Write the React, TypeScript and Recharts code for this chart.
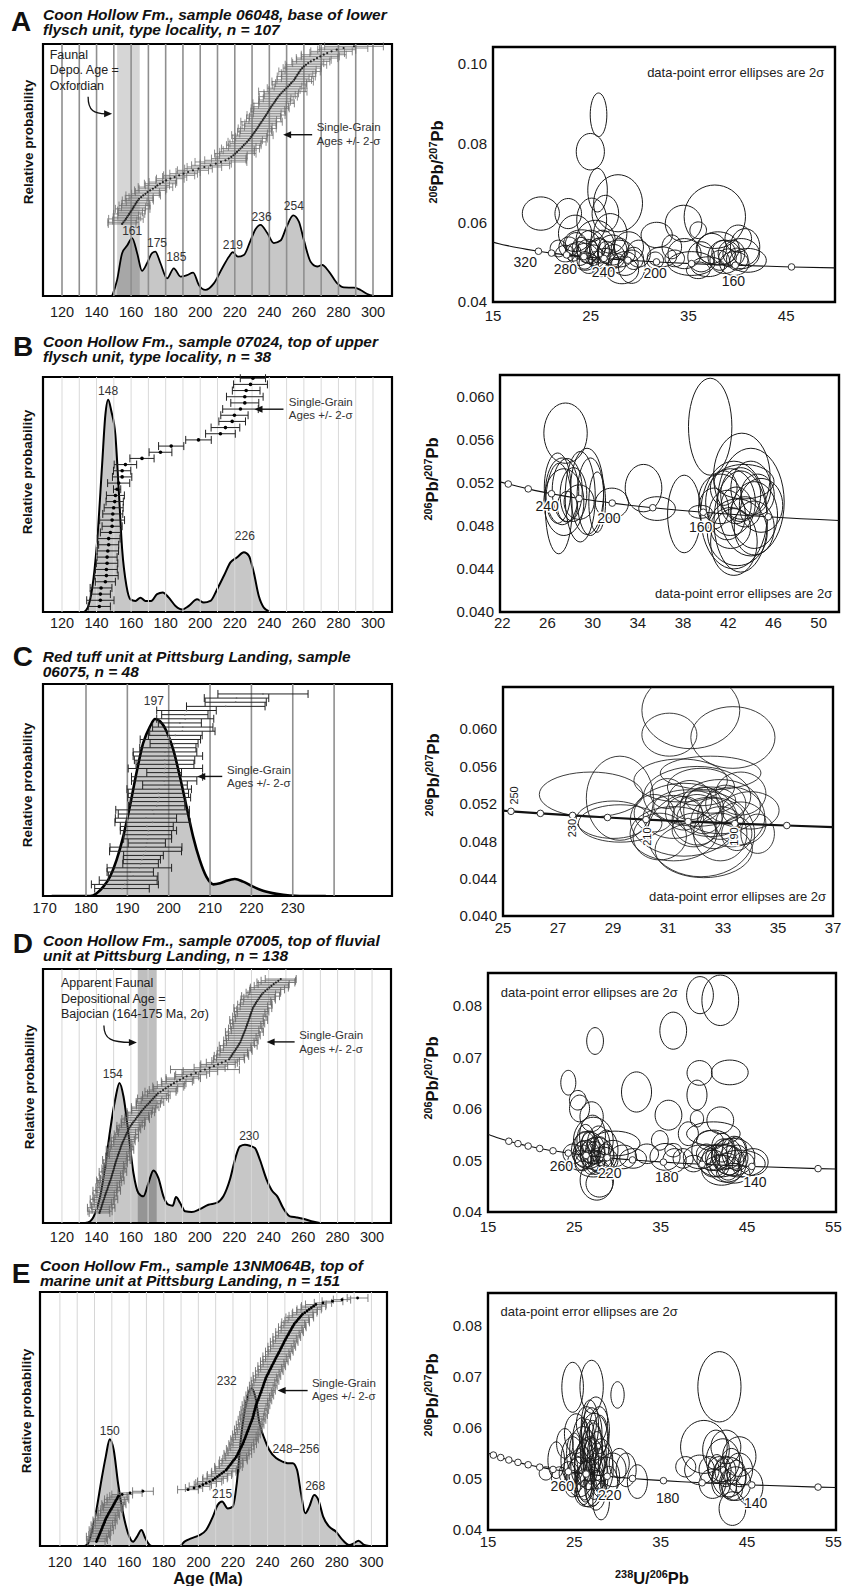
// Detrital zircon U-Pb figure: probability-density plots (left) and Tera-Wasserburg
// concordia diagrams (right) for five samples, A-E. All marks go through recharts scales.
import { Area, ComposedChart, ErrorBar, Line, ReferenceArea, ReferenceLine, Scatter, XAxis, YAxis } from 'recharts'

const FONT = '"Liberation Sans", Arial, Helvetica, sans-serif'
const INK = '#111111'

type Pair = [number, number]
type Ell = [number, number, number, number]
type Label = { t: string; x: number; y: number }
type Box = { l: number; t: number; w: number; h: number }

// ---------- titles ----------
const TITLE_A = ['Coon Hollow Fm., sample 06048, base of lower', 'flysch unit, type locality, n = 107']
const TITLE_B = ['Coon Hollow Fm., sample 07024, top of upper', 'flysch unit, type locality, n = 38']
const TITLE_C = ['Red tuff unit at Pittsburg Landing, sample', '06075, n = 48']
const TITLE_D = ['Coon Hollow Fm., sample 07005, top of fluvial', 'unit at Pittsburg Landing, n = 138']
const TITLE_E = ['Coon Hollow Fm., sample 13NM064B, top of', 'marine unit at Pittsburg Landing, n = 151']

// ---------- ticks / grid ----------
const AGE_TICKS = [120, 140, 160, 180, 200, 220, 240, 260, 280, 300]
const AGE_GRID = [120, 130, 140, 150, 160, 170, 180, 190, 200, 210, 220, 230, 240, 250, 260, 270, 280, 290, 300]
const C_TICKS = [170, 180, 190, 200, 210, 220, 230]
const C_GRID = [180, 190, 200, 210, 220, 230, 240]
const XT_A = [15, 25, 35, 45]
const YT_A = [0.04, 0.06, 0.08, 0.1]
const XT_B = [22, 26, 30, 34, 38, 42, 46, 50]
const YT_BC = [0.04, 0.044, 0.048, 0.052, 0.056, 0.06]
const XT_C = [25, 27, 29, 31, 33, 35, 37]
const XT_DE = [15, 25, 35, 45, 55]
const YT_DE = [0.04, 0.05, 0.06, 0.07, 0.08]

// ---------- concordia curve (age Ma, 238U/206Pb, 207Pb/206Pb) ----------
const CONC_AGE = [420, 400, 380, 360, 340, 320, 300, 280, 260, 250, 240, 230, 220, 210, 200, 190, 180, 170, 160, 140, 120, 100, 80]
const CONC_X = [14.85, 15.62, 16.47, 17.41, 18.47, 19.65, 20.99, 22.53, 24.3, 25.29, 26.36, 27.53, 28.8, 30.2, 31.73, 33.43, 35.32, 37.42, 39.79, 45.55, 53.22, 63.97, 80.08]
const CONC_Y = [0.05519, 0.0547, 0.05422, 0.05374, 0.05327, 0.0528, 0.05233, 0.05188, 0.05143, 0.0512, 0.05098, 0.05076, 0.05054, 0.05032, 0.05011, 0.04989, 0.04968, 0.04947, 0.04926, 0.04884, 0.04842, 0.04802, 0.04761]
const MARK_A = [320, 300, 280, 260, 240, 220, 200, 180, 160, 140]
const MARK_B = [280, 260, 240, 220, 200, 180, 160, 140]
const MARK_C = [250, 240, 230, 220, 210, 200, 190, 180]
const MARK_D = [360, 340, 320, 300, 280, 260, 240, 220, 200, 180, 160, 140, 120]
const MARK_E = [400, 380, 360, 340, 320, 300, 280, 260, 240, 220, 200, 180, 160, 140, 120]

// ---------- probability density curves [age, relative height] ----------
const PDP_A: Pair[] = [[149, 0], [151.9, 0.064], [154.8, 0.17], [157.7, 0.2], [160.6, 0.23], [163.5, 0.17], [166.3, 0.1], [169.2, 0.13], [172.1, 0.17], [174, 0.176], [177, 0.13], [180.8, 0.07], [184.7, 0.11], [188.6, 0.077], [192.4, 0.083], [195.9, 0.093], [199.2, 0.044], [203, 0.024], [207.9, 0.05], [212.7, 0.11], [216.6, 0.156], [218.9, 0.174], [221.8, 0.156], [225.3, 0.163], [229.1, 0.22], [232, 0.265], [234.9, 0.282], [238.8, 0.25], [242.6, 0.21], [246.5, 0.22], [250, 0.275], [253.8, 0.32], [257.1, 0.295], [260, 0.222], [263.9, 0.136], [267.7, 0.117], [270.6, 0.123], [274.5, 0.097], [279.3, 0.05], [283.2, 0.034], [289, 0.033], [292.8, 0.024], [296.7, 0.008], [300.6, 0]]
const PDP_B: Pair[] = [[132.6, 0], [134.9, 0.019], [137.4, 0.097], [140.3, 0.297], [143.2, 0.625], [145.1, 0.839], [146.7, 0.903], [148.6, 0.853], [150.9, 0.753], [152.8, 0.525], [154.8, 0.268], [157.3, 0.111], [159.6, 0.054], [162.5, 0.047], [165.4, 0.061], [168.3, 0.047], [171.6, 0.047], [175, 0.076], [178.3, 0.083], [181.8, 0.061], [185.7, 0.026], [189.5, 0.011], [193.4, 0.026], [198.2, 0.054], [202.1, 0.04], [205.9, 0.047], [209.8, 0.097], [213.7, 0.154], [217.5, 0.211], [221.4, 0.233], [225.3, 0.254], [228.1, 0.24], [231, 0.168], [233.9, 0.068], [236.8, 0.019], [240.7, 0]]
const PDP_C: Pair[] = [[171.7, 0], [181, 0], [182.6, 0.013], [184.2, 0.044], [185.8, 0.091], [187.4, 0.17], [189, 0.28], [190.6, 0.422], [192.2, 0.58], [193.8, 0.72], [195.5, 0.8], [196.7, 0.835], [197.9, 0.824], [199.5, 0.776], [201.1, 0.69], [202.7, 0.564], [204.3, 0.422], [205.9, 0.28], [207.5, 0.17], [209.1, 0.091], [210.8, 0.055], [212.4, 0.06], [214, 0.072], [216, 0.08], [218, 0.068], [220.4, 0.044], [222.8, 0.025], [226.1, 0.01], [229.3, 0.002], [231.7, 0], [238, 0]]
const PDP_D: Pair[] = [[133.5, 0], [136.4, 0.007], [139.3, 0.039], [142.2, 0.105], [145.1, 0.223], [148, 0.367], [150.9, 0.486], [153.4, 0.551], [155.7, 0.499], [158.6, 0.354], [161.5, 0.197], [164.4, 0.118], [167.3, 0.105], [170.2, 0.157], [173.1, 0.207], [176, 0.177], [178.9, 0.105], [181.8, 0.072], [184.3, 0.068], [186.2, 0.102], [188.6, 0.079], [191.5, 0.046], [195.3, 0.043], [200.1, 0.055], [205, 0.072], [209.8, 0.079], [213.7, 0.105], [217.5, 0.171], [220.4, 0.249], [223.3, 0.302], [226.2, 0.308], [229.1, 0.304], [232, 0.295], [234.9, 0.249], [238.8, 0.171], [242.2, 0.125], [245, 0.105], [248.4, 0.059], [252.3, 0.026], [256.2, 0.022], [260, 0.017], [264.8, 0.007], [269.7, 0]]
const PDP_E: Pair[] = [[134.4, 0], [136.3, 0.011], [138.2, 0.05], [141.1, 0.142], [144, 0.26], [146.5, 0.352], [148.8, 0.42], [151.1, 0.378], [153.6, 0.247], [156.5, 0.129], [159.4, 0.05], [162.3, 0.017], [164.6, 0.037], [167.1, 0.063], [169.4, 0.03], [171.9, 0.004], [173.8, 0], [189.2, 0], [192, 0.017], [195.9, 0.03], [200.7, 0.043], [204.5, 0.063], [208.4, 0.116], [211.2, 0.162], [213.7, 0.175], [217, 0.148], [219.9, 0.155], [222.2, 0.247], [224.7, 0.431], [227.6, 0.562], [230.4, 0.622], [232.9, 0.589], [235.3, 0.484], [238.1, 0.424], [241, 0.378], [244.9, 0.346], [248.7, 0.332], [251.6, 0.326], [254.5, 0.326], [257, 0.3], [259.3, 0.208], [261.8, 0.129], [264.1, 0.155], [266.9, 0.201], [269.4, 0.181], [272.1, 0.116], [275.6, 0.076], [279.4, 0.057], [283.3, 0.024], [287.1, 0.004], [290, 0.011], [292.5, 0.021], [295.8, 0.004], [298.6, 0]]

// ---------- single-grain ages [age, 2-sigma error], ranked bottom to top ----------
const GRAINS_A: Pair[] = [
  [154.8, 8], [155.5, 9], [156.3, 7], [157, 10], [157.6, 8], [158.3, 6], [158.9, 9], [159.6, 7], [160.2, 8], [160.9, 10],
  [161.4, 7], [162, 9], [162.6, 8], [163.2, 6], [163.9, 9], [164.6, 8], [165.8, 7], [167, 10], [168.3, 8], [169.5, 7],
  [171, 9], [172.6, 8], [174.1, 10], [175.2, 7], [176.7, 9], [178.4, 8], [180.3, 6], [182.7, 8], [185.2, 7], [187.8, 9],
  [190.4, 8], [193, 7], [195.8, 9], [199, 8], [202.4, 10], [206, 11], [209, 9], [212, 15], [214.6, 12], [216.5, 10],
  [218, 9], [219.2, 8], [220.3, 12], [221.3, 10], [222.3, 9], [223.3, 11], [224.3, 8], [225.2, 10], [226.2, 9], [227.1, 11],
  [228, 8], [228.8, 10], [229.5, 9], [230.2, 12], [230.9, 8], [231.6, 10], [232.3, 9], [233, 11], [233.6, 8], [234.2, 10],
  [234.9, 9], [235.5, 12], [236.2, 8], [236.8, 10], [237.5, 9], [238.1, 11], [238.8, 8], [239.3, 10], [239.9, 9], [240.5, 11],
  [241.1, 10], [241.8, 8], [242.5, 12], [243.2, 9], [243.8, 10], [244.5, 8], [245.2, 11], [246, 9], [246.9, 10], [247.8, 14],
  [248.8, 9], [249.8, 11], [250.8, 8], [251.7, 10], [252.6, 9], [253.5, 12], [254.4, 10], [255, 8], [255.6, 11], [256.2, 9],
  [256.9, 10], [257.5, 12], [258.1, 9], [259, 11], [260, 10], [261.2, 12], [262.5, 9], [264, 11], [265.8, 10], [267.6, 12],
  [269.5, 11], [271.5, 13], [273.5, 10], [276, 12], [279, 11], [283, 14], [289, 17],
]
const GRAINS_B: Pair[] = [
  [141.6, 6.4], [142.2, 7.9], [142.2, 5.8], [142.6, 6.3], [145.1, 5.8], [145.7, 6.8], [145.7, 6.3], [146.1, 6.2], [146.1, 5.8], [146.5, 6.2],
  [147, 5.8], [147, 6.6], [148, 5.8], [149, 5.8], [149, 7.2], [149.4, 5.8], [149.9, 5.5], [150.5, 5], [150.9, 5.2], [151.9, 2.1],
  [152.8, 6.4], [154.8, 5.6], [154.8, 5], [156.7, 6.5], [166.3, 7], [177, 6.6], [183.2, 7.3], [199, 7.4], [211.7, 8.6], [214.6, 8.3],
  [218.5, 7.7], [219.8, 7.9], [223.3, 10.3], [225.8, 8.1], [225.8, 10.6], [226.6, 8], [229.1, 9.8], [230.5, 7.3],
]
const GRAINS_C: Pair[] = [
  [188.7, 6.6], [189.4, 8.1], [190.2, 7], [191.4, 6], [190.7, 5.6], [192.9, 7.8], [193.2, 4.3], [193.5, 4.5], [193.9, 4.8], [194.4, 8.7],
  [194.5, 8.7], [194.7, 4.5], [194.9, 5.8], [194.9, 5.8], [195.1, 6.8], [194.7, 6.4], [196.1, 9.1], [194.5, 7.4], [196.4, 8.6], [196.1, 8.9],
  [197.1, 6.8], [197.4, 6.7], [197.7, 7.6], [197.5, 7.3], [197.7, 7.8], [199.1, 5.4], [198.9, 7.9], [199.6, 8.6], [198.9, 4.2], [199.2, 9],
  [199.1, 7], [199, 7.3], [199.8, 8.4], [199.1, 7.7], [199.8, 6.8], [201.3, 5.8], [200.4, 7.3], [201.6, 6.5], [203.3, 7.9], [203.4, 7.3],
  [202.7, 5.2], [204, 6.9], [203.9, 5.6], [204.3, 7.2], [213.8, 9.5], [216.2, 7.4], [216.4, 7.8], [222.8, 10.9],
]
const GRAINS_D: Pair[] = [
  [141.8, 6], [142.1, 7], [142.5, 5], [142.8, 8], [143.1, 6], [143.4, 7], [143.7, 5], [144, 6], [144.4, 8], [144.7, 6],
  [145, 7], [145.3, 5], [145.7, 6], [146, 8], [146.4, 6], [146.7, 7], [147, 5], [147.4, 6], [147.7, 7], [148.1, 8],
  [148.4, 6], [148.7, 7], [149, 5], [149.3, 6], [149.6, 8], [149.9, 6], [150.2, 7], [150.4, 6], [150.7, 5], [151, 7],
  [151.3, 6], [151.6, 8], [152, 6], [152.3, 7], [152.6, 5], [153, 6], [153.3, 7], [153.7, 8], [154, 6], [154.3, 7],
  [154.7, 6], [155.1, 5], [155.5, 7], [156, 6], [156.4, 8], [156.9, 6], [157.3, 7], [157.8, 5], [158.3, 6], [158.7, 7],
  [159.2, 6], [159.9, 8], [160.6, 6], [161.3, 7], [162.1, 6], [162.8, 8], [163.5, 7], [164.3, 6], [165, 7], [165.8, 8],
  [166.5, 6], [167.4, 7], [168.3, 8], [169.2, 6], [170.2, 7], [171.1, 8], [172, 6], [172.9, 9], [173.8, 7], [174.8, 8],
  [175.7, 6], [177.2, 9], [178.7, 8], [180.2, 7], [181.7, 9], [183.3, 8], [185, 7], [186.7, 9], [188.5, 8], [190.4, 10],
  [192.4, 7], [195, 9], [197.7, 8], [200.4, 10], [203, 20], [205.7, 9], [208.2, 8], [210.6, 10], [212.8, 9], [215, 8],
  [217, 9], [217.7, 8], [218.4, 10], [219, 9], [219.7, 8], [220.4, 10], [221, 9], [221.7, 8], [222.3, 11], [222.9, 9],
  [223.5, 8], [223.9, 10], [224.3, 9], [224.7, 8], [225.1, 10], [225.5, 9], [225.9, 11], [226.3, 8], [226.7, 10], [227, 9],
  [227.4, 8], [227.7, 10], [228.1, 9], [228.4, 11], [228.8, 8], [229.1, 10], [229.4, 9], [229.8, 8], [230.1, 10], [230.5, 9],
  [230.8, 11], [231.4, 8], [232, 10], [232.6, 9], [233.2, 8], [233.9, 10], [234.6, 9], [235.3, 11], [236, 8], [236.9, 10],
  [238, 9], [239.2, 10], [240.4, 11], [241.6, 10], [242.9, 9], [244.2, 11], [245.6, 10], [247, 9],
]
const GRAINS_E: Pair[] = [
  [141.1, 5], [141.5, 6], [141.9, 5], [142.3, 7], [142.7, 6], [143.1, 5], [143.5, 6], [143.9, 7], [144.3, 5], [144.6, 6],
  [145, 7], [145.4, 5], [145.8, 6], [146.1, 7], [146.5, 6], [147, 5], [147.5, 7], [148, 6], [148.5, 5], [149.1, 7],
  [149.6, 6], [150.2, 5], [150.7, 6], [151.2, 7], [151.7, 6], [152.2, 5], [152.8, 7], [153.3, 6], [153.8, 5], [156, 6],
  [160.5, 7], [168, 6],
  [194, 6], [197.5, 5], [200.7, 6], [202.6, 5], [204.5, 6], [206.5, 7], [208.4, 6], [209.7, 7], [211, 6], [212.2, 7],
  [213.5, 6], [214.7, 7], [216, 6], [216.7, 7], [217.4, 8], [218.2, 6], [218.9, 7], [219.6, 6], [220.3, 8], [221.1, 7],
  [221.8, 6], [222.3, 7], [222.8, 8], [223.2, 6], [223.7, 7], [224.2, 8], [224.7, 6], [225.1, 7], [225.6, 8], [226, 6],
  [226.3, 7], [226.7, 8], [227.1, 7], [227.4, 6], [227.8, 8], [228.1, 7], [228.5, 6], [228.9, 8], [229.2, 7], [229.6, 6],
  [229.9, 8], [230.3, 7], [230.7, 6], [231, 8], [231.4, 7], [231.6, 6], [231.9, 8], [232.1, 7], [232.3, 6], [232.6, 8],
  [232.8, 7], [233.1, 6], [233.3, 8], [233.7, 7], [234, 6], [234.4, 8], [234.8, 7], [235.1, 6], [235.5, 8], [235.8, 7],
  [236.2, 6], [236.5, 8], [236.8, 7], [237.2, 6], [237.5, 8], [237.8, 7], [238.1, 6], [238.5, 8], [238.8, 7], [239.1, 6],
  [239.6, 8], [240.1, 7], [240.6, 6], [241, 8], [241.5, 7], [242, 6], [242.4, 8], [242.9, 7], [243.4, 6], [243.9, 8],
  [244.3, 7], [244.8, 6], [245.3, 8], [245.8, 7], [246.3, 6], [246.8, 8], [247.3, 7], [247.7, 6], [248.2, 8], [248.7, 7],
  [249.2, 6], [249.6, 8], [250.1, 7], [250.6, 6], [251.1, 8], [251.7, 7], [252.2, 6], [252.7, 8], [253.3, 7], [253.8, 6],
  [254.3, 8], [254.9, 7], [255.4, 6], [256.2, 8], [257, 7], [257.8, 6], [258.6, 8], [259.4, 7], [260.2, 6], [261.5, 7],
  [262.8, 6], [264, 7], [265.3, 6], [266.6, 7], [267.9, 6], [272, 5], [277.5, 6], [283, 5], [292, 6],
]

// ---------- error ellipses [238U/206Pb, 207Pb/206Pb, half-width, half-height] ----------
const ELL_A: Ell[] = [
  [25.8, 0.0872, 0.85, 0.0055], [24.96, 0.0779, 1.44, 0.0046], [25.7, 0.0682, 1.0, 0.0055], [27.8, 0.0649, 2.5, 0.0072],
  [19.9, 0.0623, 1.9, 0.0042], [22.7, 0.0623, 1.36, 0.0038], [37.7, 0.0615, 3.14, 0.008], [34.5, 0.0598, 1.87, 0.0046],
  [31.75, 0.0569, 1.6, 0.0032], [36, 0.0581, 0.85, 0.0021], [40.1, 0.056, 1.36, 0.0034], [38, 0.0535, 2.2, 0.0042],
  [23.4, 0.0573, 1.7, 0.0046], [25.1, 0.0607, 1.53, 0.0055], [26.5, 0.0623, 1.36, 0.0046], [22.75, 0.0539, 1.0, 0.0025],
  [23.8, 0.0522, 1.2, 0.003], [24.45, 0.0514, 1.36, 0.0034], [25.0, 0.0539, 1.5, 0.0042], [25.8, 0.0522, 1.2, 0.0038],
  [26.5, 0.0505, 1.36, 0.003], [27.2, 0.0531, 1.5, 0.0038], [27.85, 0.0522, 1.7, 0.0034], [28.5, 0.0497, 1.36, 0.003],
  [28.9, 0.0539, 1.5, 0.0038], [28.2, 0.048, 1.7, 0.0034], [29.2, 0.0489, 1.36, 0.0042], [25.5, 0.0556, 2.0, 0.005],
  [24.1, 0.0548, 1.87, 0.0034], [22.4, 0.0522, 1.0, 0.0021], [27.0, 0.0573, 1.7, 0.005], [24.8, 0.0497, 1.0, 0.0025],
  [26.1, 0.0489, 1.0, 0.0025], [29.9, 0.0522, 1.2, 0.0034], [21.7, 0.0535, 0.85, 0.0021], [32.3, 0.0514, 1.5, 0.0025],
  [31.6, 0.0505, 0.85, 0.0021], [33.6, 0.051, 1.0, 0.0021], [34.6, 0.0522, 1.7, 0.0038], [35.3, 0.0497, 2.4, 0.003],
  [36.3, 0.0514, 1.36, 0.0038], [37, 0.0489, 1.7, 0.0025], [37.4, 0.0535, 1.5, 0.0038], [38.7, 0.0514, 1.7, 0.0042],
  [39.4, 0.0522, 1.36, 0.0034], [39.7, 0.0497, 1.5, 0.003], [40.4, 0.0522, 1.87, 0.0038], [41.1, 0.0505, 1.87, 0.003],
  [40.8, 0.0539, 1.5, 0.0046], [36, 0.048, 1.2, 0.0021], [33.3, 0.0539, 1.0, 0.003],
  [23.2, 0.0525, 0.8, 0.0022], [24.0, 0.0535, 0.9, 0.0028], [24.7, 0.0528, 1.1, 0.003], [25.3, 0.0518, 0.9, 0.0026],
  [25.9, 0.053, 1.0, 0.0032], [26.6, 0.0525, 0.9, 0.0028], [27.4, 0.0515, 1.1, 0.003], [28.0, 0.0535, 0.9, 0.0026],
  [26.2, 0.0545, 1.2, 0.0036], [24.4, 0.0505, 0.8, 0.0022], [27.7, 0.0498, 0.9, 0.0024], [29.4, 0.051, 1.0, 0.0028],
  [25.6, 0.0508, 0.8, 0.002], [23.5, 0.0545, 1.1, 0.003], [38.2, 0.0505, 1.0, 0.0025], [39.0, 0.0512, 0.9, 0.0022],
  [40.0, 0.0508, 1.1, 0.0028], [38.6, 0.0525, 1.2, 0.003],
]
const ELL_B: Ell[] = [
  [27.6, 0.0566, 1.92, 0.0028], [26.9, 0.0515, 1.18, 0.00326], [27.3, 0.0512, 1.47, 0.0031], [27.75, 0.0513, 1.33, 0.00295],
  [27.0, 0.0496, 1.18, 0.0042], [27.45, 0.0502, 1.77, 0.0031], [28.3, 0.0509, 1.18, 0.0025], [28.9, 0.0507, 1.33, 0.0042],
  [29.5, 0.0512, 1.47, 0.004], [29.8, 0.0507, 1.18, 0.0036], [28.8, 0.0502, 1.33, 0.0016], [30.4, 0.0502, 0.74, 0.0028],
  [27.75, 0.0498, 0.88, 0.0014], [31.7, 0.0501, 1.47, 0.0014], [34.5, 0.0515, 1.62, 0.0022], [35.7, 0.0496, 1.62, 0.0011],
  [38.1, 0.0491, 1.47, 0.0036], [40.4, 0.0572, 1.92, 0.0045], [39.55, 0.0493, 1.03, 0.0006], [43.2, 0.0526, 2.5, 0.004],
  [44, 0.0502, 2.95, 0.005], [42.5, 0.049, 2.95, 0.005], [42.2, 0.0502, 2.2, 0.0031], [43.1, 0.0509, 1.77, 0.0025],
  [41.3, 0.0505, 1.9, 0.0023], [40.7, 0.0496, 1.33, 0.0019], [44.3, 0.049, 2.06, 0.0031], [44.9, 0.0499, 1.92, 0.0025],
  [42.8, 0.0474, 2.65, 0.0031], [42.5, 0.0465, 2.06, 0.0031], [43.1, 0.0484, 2.36, 0.0047], [44, 0.0515, 1.77, 0.0025],
  [43.4, 0.0521, 2.65, 0.0016], [41.6, 0.0515, 1.18, 0.0016], [41.9, 0.049, 1.62, 0.0023], [44.3, 0.0478, 1.77, 0.0025],
  [44.6, 0.0509, 1.47, 0.0019], [42.7, 0.0499, 1.33, 0.0017], [43.5, 0.0493, 1.33, 0.0014], [42.2, 0.0478, 1.77, 0.0019],
]
const ELL_C: Ell[] = [
  [31.83, 0.062, 1.78, 0.0041], [33.36, 0.0591, 1.53, 0.0033], [31.05, 0.0594, 1.0, 0.0023], [28.2, 0.053, 1.88, 0.0024],
  [29.25, 0.0526, 1.22, 0.0045], [29.0, 0.0503, 1.34, 0.002], [29.26, 0.0499, 1.52, 0.002], [31.46, 0.0545, 1.7, 0.0023],
  [32.55, 0.0553, 1.83, 0.0018], [32.06, 0.0528, 1.95, 0.0032], [31.58, 0.0503, 1.95, 0.0039], [32.2, 0.0488, 1.95, 0.0046],
  [32.3, 0.0471, 1.77, 0.003], [31.2, 0.0488, 1.58, 0.0029], [30.7, 0.0485, 0.97, 0.0025], [32.9, 0.0517, 1.46, 0.0029],
  [33.3, 0.0506, 1.22, 0.0032], [33.65, 0.0499, 0.91, 0.0023], [31.7, 0.0517, 1.22, 0.0018], [32.55, 0.0506, 1.22, 0.0021],
  [31.2, 0.0506, 1.1, 0.0023], [32.06, 0.0503, 0.91, 0.0027], [32.9, 0.0488, 0.97, 0.0029], [34, 0.0513, 1.04, 0.002],
  [33.65, 0.0531, 0.91, 0.0023], [32.2, 0.0538, 1.22, 0.002], [30.5, 0.051, 0.73, 0.002], [34.26, 0.0488, 0.61, 0.0021],
  [32.55, 0.0524, 0.91, 0.0014], [31.94, 0.0492, 0.79, 0.0018], [32.9, 0.0496, 0.67, 0.0014], [30.97, 0.0531, 0.61, 0.0016],
  [32.3, 0.0513, 0.73, 0.0025], [31.58, 0.051, 0.67, 0.0018], [33.1, 0.052, 0.73, 0.002], [32.67, 0.0499, 0.85, 0.0027],
  [31.8, 0.0524, 0.79, 0.0021], [33.5, 0.0488, 0.55, 0.0018],
]
const ELL_D: Ell[] = [
  [27.4, 0.0732, 0.97, 0.0026], [24.3, 0.0651, 0.87, 0.0024], [25.4, 0.0617, 0.97, 0.0019], [25.6, 0.0601, 1.16, 0.0026],
  [27, 0.0585, 1.35, 0.0029], [32.2, 0.0633, 1.74, 0.0039], [36.45, 0.0752, 1.55, 0.0036], [39.55, 0.0821, 1.55, 0.0036],
  [41.9, 0.0811, 2.13, 0.0049], [39.5, 0.067, 1.45, 0.0024], [43, 0.0671, 2.13, 0.0024], [39.2, 0.0627, 1.16, 0.0029],
  [35.9, 0.0588, 1.55, 0.0029], [39.2, 0.0581, 0.77, 0.0016], [38.2, 0.0552, 1.16, 0.0023], [34.9, 0.0539, 0.97, 0.0019],
  [41.1, 0.0552, 3.1, 0.0023], [41.9, 0.0578, 1.55, 0.0026], [27.2, 0.0539, 2.3, 0.0045], [26.6, 0.052, 1.93, 0.0036],
  [26.4, 0.0513, 1.55, 0.0026], [27.6, 0.0513, 1.93, 0.0032], [28.3, 0.05, 1.74, 0.0026], [27.2, 0.0494, 2.13, 0.0026],
  [27.6, 0.0462, 1.93, 0.0039], [27.9, 0.0455, 1.55, 0.0026], [29.5, 0.0513, 1.74, 0.0026], [30.65, 0.0507, 1.55, 0.0023],
  [29.7, 0.0533, 2.9, 0.0024], [25.6, 0.05, 1.35, 0.0019], [24.85, 0.0513, 1.16, 0.0019], [31.8, 0.0504, 1.55, 0.0019],
  [26.2, 0.0533, 1.16, 0.0023], [28.7, 0.052, 1.35, 0.0039], [33.4, 0.0513, 1.35, 0.0019], [35.5, 0.0507, 1.74, 0.0026],
  [36.6, 0.05, 1.35, 0.0023], [37.6, 0.0504, 1.16, 0.0019], [36.45, 0.052, 0.97, 0.0013], [39.55, 0.0507, 1.93, 0.0023],
  [41.1, 0.052, 2.5, 0.0039], [41.9, 0.05, 2.7, 0.0032], [42.6, 0.0494, 2.3, 0.0036], [43.4, 0.0507, 2.5, 0.0036],
  [44.2, 0.0494, 2.9, 0.0026], [42.05, 0.0481, 2.3, 0.0029], [41.1, 0.0494, 1.55, 0.0026], [40.3, 0.0513, 1.16, 0.0019],
  [42.8, 0.0513, 1.55, 0.0029], [43.8, 0.052, 1.16, 0.0026], [43.4, 0.0475, 1.93, 0.0019], [45.7, 0.0497, 1.74, 0.0026],
  [38.8, 0.0494, 1.16, 0.0016], [40.7, 0.0539, 1.55, 0.0019],
  [26.0, 0.0505, 1.0, 0.0025], [26.8, 0.0525, 1.1, 0.003], [27.4, 0.0505, 1.2, 0.0032], [28.0, 0.0518, 1.0, 0.0028],
  [26.9, 0.0495, 0.9, 0.0022], [27.8, 0.0532, 1.3, 0.0035], [25.9, 0.0518, 0.8, 0.002], [28.6, 0.0508, 1.0, 0.0024],
  [27.1, 0.0548, 1.5, 0.004], [26.3, 0.054, 1.0, 0.003], [26.5, 0.0512, 0.8, 0.0024], [27.2, 0.0518, 0.9, 0.0026],
  [27.7, 0.0498, 0.8, 0.002], [26.7, 0.0535, 0.8, 0.0022],
  [41.5, 0.0505, 1.3, 0.0025], [42.3, 0.0512, 1.4, 0.003], [43.0, 0.05, 1.2, 0.0028], [41.8, 0.049, 1.1, 0.0022],
  [42.8, 0.0488, 1.3, 0.0026], [43.9, 0.0505, 1.2, 0.0025], [40.8, 0.0502, 1.0, 0.0022], [42.1, 0.0525, 1.2, 0.0028],
  [43.5, 0.0515, 1.4, 0.0032], [44.6, 0.0492, 1.3, 0.0024],
]
const ELL_E: Ell[] = [
  [24.8, 0.068, 1.25, 0.0049], [27, 0.0681, 1.35, 0.0052], [30, 0.0665, 0.77, 0.0026], [41.8, 0.0681, 2.5, 0.0069],
  [40, 0.0563, 2.7, 0.0052], [22.9, 0.0537, 0.96, 0.0036], [23.9, 0.057, 0.96, 0.0029], [25.2, 0.0589, 1.35, 0.0039],
  [26.4, 0.0609, 1.16, 0.0033], [27.5, 0.0615, 1.35, 0.0046], [27.3, 0.0583, 1.54, 0.0046], [26, 0.0557, 1.54, 0.0046],
  [24.8, 0.0537, 1.35, 0.0046], [26.75, 0.0531, 1.73, 0.0052], [28.1, 0.0537, 1.35, 0.0042], [25.6, 0.0504, 1.54, 0.0039],
  [26.75, 0.0491, 1.73, 0.0046], [26.4, 0.0472, 1.35, 0.0026], [27.5, 0.0478, 1.16, 0.0039], [28.1, 0.0456, 0.96, 0.0036],
  [28.7, 0.0504, 1.54, 0.0039], [29.45, 0.0518, 1.54, 0.0033], [30.2, 0.0531, 1.16, 0.0029], [31, 0.0518, 1.16, 0.0033],
  [32.3, 0.0495, 1.16, 0.0033], [24.4, 0.0511, 1.16, 0.0023], [23.3, 0.0504, 0.96, 0.002], [21.7, 0.0511, 0.77, 0.0013],
  [27.1, 0.0563, 1.16, 0.0052], [27.9, 0.0596, 1.16, 0.0046], [26.2, 0.0518, 1.16, 0.0059], [24.8, 0.0491, 0.96, 0.0026],
  [26.0, 0.0525, 1.0, 0.004], [27.3, 0.0505, 1.1, 0.0045], [26.6, 0.0545, 0.9, 0.005], [27.8, 0.052, 1.0, 0.004],
  [25.5, 0.0525, 0.9, 0.0035], [27.0, 0.059, 1.2, 0.005],
  [25.0, 0.055, 0.9, 0.004], [25.8, 0.0575, 1.0, 0.0045], [26.3, 0.0495, 1.0, 0.004], [26.9, 0.0535, 0.9, 0.0045],
  [27.2, 0.056, 1.0, 0.005], [27.6, 0.0545, 1.1, 0.0048], [26.5, 0.0575, 0.9, 0.0042], [25.3, 0.051, 0.9, 0.0035],
  [27.9, 0.0505, 1.0, 0.004], [28.4, 0.052, 1.1, 0.0045], [26.1, 0.0485, 0.9, 0.0035], [27.2, 0.0485, 1.0, 0.0038],
  [28.0, 0.057, 1.0, 0.0055], [26.8, 0.0605, 1.0, 0.005], [29.0, 0.0495, 1.0, 0.003], [24.6, 0.052, 0.8, 0.003],
  [37.9, 0.0524, 1.16, 0.002], [39.5, 0.0518, 1.73, 0.0029], [41.4, 0.0557, 1.54, 0.0039], [42.2, 0.0537, 1.93, 0.0042],
  [44.1, 0.0544, 1.93, 0.0039], [42.9, 0.0504, 1.93, 0.0039], [43.7, 0.0491, 1.73, 0.0033], [43.3, 0.0442, 1.54, 0.0033],
  [45.3, 0.0485, 1.54, 0.0036], [41, 0.0491, 1.54, 0.0029], [41.8, 0.0518, 1.35, 0.0026], [44.1, 0.0518, 1.54, 0.0033],
  [42.55, 0.0563, 1.73, 0.0033], [40.6, 0.0518, 1.16, 0.0026], [43.3, 0.0478, 1.16, 0.002],
  [42.5, 0.0515, 1.2, 0.003], [43.2, 0.0525, 1.3, 0.0035], [42.0, 0.0495, 1.1, 0.003], [43.8, 0.0505, 1.1, 0.0032],
  [42.8, 0.049, 1.0, 0.0028], [41.5, 0.052, 1.0, 0.0028],
]

// ---------- annotations (data coordinates) ----------
const PEAKS_A: Label[] = [{ t: '161', x: 160.6, y: 0.256 }, { t: '175', x: 175, y: 0.212 }, { t: '185', x: 186.2, y: 0.154 }, { t: '219', x: 218.9, y: 0.203 }, { t: '236', x: 235.5, y: 0.315 }, { t: '254', x: 254.2, y: 0.358 }]
const PEAKS_B: Label[] = [{ t: '148', x: 146.7, y: 0.939 }, { t: '226', x: 225.8, y: 0.322 }]
const PEAKS_C: Label[] = [{ t: '197', x: 196.4, y: 0.921 }]
const PEAKS_D: Label[] = [{ t: '154', x: 149.5, y: 0.588 }, { t: '230', x: 228.7, y: 0.341 }]
const PEAKS_E: Label[] = [{ t: '150', x: 148.8, y: 0.451 }, { t: '232', x: 216.4, y: 0.648 }, { t: '248–256', x: 256.4, y: 0.381 }, { t: '215', x: 213.7, y: 0.205 }, { t: '268', x: 267.5, y: 0.237 }]
const SG = 'Single-Grain\nAges +/- 2-σ'
const SG_A: Label = { t: SG, x: 267.4, y: 0.669 }
const SG_B: Label = { t: SG, x: 251.3, y: 0.893 }
const SG_C: Label = { t: SG, x: 214.1, y: 0.595 }
const SG_D: Label = { t: SG, x: 257.7, y: 0.739 }
const SG_E: Label = { t: SG, x: 265.6, y: 0.641 }
const ARROW_A: Label = { t: '', x: 248, y: 0.64 }
const ARROW_B: Label = { t: '', x: 231.4, y: 0.863 }
const ARROW_C: Label = { t: '', x: 206.9, y: 0.564 }
const ARROW_D: Label = { t: '', x: 238.8, y: 0.713 }
const ARROW_E: Label = { t: '', x: 245.8, y: 0.612 }
const FAUNAL_A: Label = { t: 'Faunal\nDepo. Age =\nOxfordian', x: 112.9, y: 0.958 }
const FAUNAL_D: Label = { t: 'Apparent Faunal\nDepositional Age =\nBajocian (164-175 Ma, 2σ)', x: 119.4, y: 0.945 }
const HOOK_A: Label = { t: '', x: 149, y: 0.723 }
const HOOK_D: Label = { t: '', x: 163.5, y: 0.711 }
const BAND_A: Pair = [151.9, 165]
const BAND_D: Pair = [164, 175]

const AGES_A: Label[] = [{ t: '320', x: 18.3, y: 0.0501 }, { t: '280', x: 22.4, y: 0.0484 }, { t: '240', x: 26.3, y: 0.0476 }, { t: '200', x: 31.6, y: 0.0472 }, { t: '160', x: 39.6, y: 0.0452 }]
const AGES_B: Label[] = [{ t: '240', x: 25.98, y: 0.0498 }, { t: '200', x: 31.44, y: 0.0487 }, { t: '160', x: 39.55, y: 0.0479 }]
const AGES_C: Label[] = [{ t: '250', x: 25.39, y: 0.0529 }, { t: '230', x: 27.5, y: 0.0494 }, { t: '210', x: 30.24, y: 0.0485 }, { t: '190', x: 33.4, y: 0.0485 }]
const AGES_D: Label[] = [{ t: '260', x: 23.5, y: 0.0489 }, { t: '220', x: 29.1, y: 0.0476 }, { t: '180', x: 35.7, y: 0.0467 }, { t: '140', x: 45.9, y: 0.0458 }]
const AGES_E: Label[] = [{ t: '260', x: 23.6, y: 0.0486 }, { t: '220', x: 29.1, y: 0.0469 }, { t: '180', x: 35.8, y: 0.0462 }, { t: '140', x: 46, y: 0.0452 }]
const NOTE = 'data-point error ellipses are 2σ'
const NOTE_A: Label = { t: NOTE, x: 48.9, y: 0.0979 }
const NOTE_B: Label = { t: NOTE, x: 51.2, y: 0.0418 }
const NOTE_C: Label = { t: NOTE, x: 36.75, y: 0.0421 }
const NOTE_D: Label = { t: NOTE, x: 16.47, y: 0.0828 }
const NOTE_E: Label = { t: NOTE, x: 16.46, y: 0.0829 }

// ---------- row builders ----------
const pdpRows = (pts: Pair[]) => pts.map(([x, d]) => ({ x, d }))
const grainRows = (g: Pair[]) => g.map(([x, e], i) => ({ x, r: i, e }))
const labelRows = (ls: Label[]) => ls.map((l) => ({ x: l.x, y: l.y, d: l.y, t: l.t }))
const concRows = CONC_X.map((x, i) => ({ x, y: CONC_Y[i] }))
const markerRows = (ages: number[]) => ages.map((a) => ({ x: CONC_X[CONC_AGE.indexOf(a)], y: CONC_Y[CONC_AGE.indexOf(a)] }))
const ELL_STEPS = 44
function ellipseRows(list: Ell[]) {
  const rows: { x: number; y: number | null }[] = []
  for (const [cx, cy, rx, ry] of list) {
    for (let k = 0; k <= ELL_STEPS; k++) {
      const t = (k / ELL_STEPS) * Math.PI * 2
      rows.push({ x: cx + rx * Math.cos(t), y: cy + ry * Math.sin(t) })
    }
    rows.push({ x: cx, y: null })
  }
  return rows
}

// ---------- shapes ----------
const textShape = (size: number, anchor: string, color: string, lh = size * 1.15, rotate = 0, halo = false) => (p: any) => {
  if (p.cx == null || p.cy == null) return <g />
  const lines = String(p.payload.t).split('\n')
  return (
    <text x={p.cx} y={p.cy} fontSize={size} fontFamily={FONT} textAnchor={anchor} fill={color} dominantBaseline="central"
      transform={rotate ? `rotate(${rotate} ${p.cx} ${p.cy})` : undefined}
      stroke={halo ? '#fff' : 'none'} strokeWidth={halo ? 3 : 0} paintOrder="stroke">
      {lines.map((s, i) => (
        <tspan key={i} x={p.cx} dy={i === 0 ? 0 : lh}>{s}</tspan>
      ))}
    </text>
  )
}
const leftArrow = (len: number) => (p: any) => (
  <g>
    <line x1={p.cx + 5} y1={p.cy} x2={p.cx + len} y2={p.cy} stroke={INK} strokeWidth={1.4} />
    <path d={`M${p.cx},${p.cy} l8,-3.5 l0,7 z`} fill={INK} />
  </g>
)
const hookArrow = (dx: number, dy: number) => (p: any) => (
  <g>
    <path d={`M${p.cx - dx},${p.cy - dy} C${p.cx - dx},${p.cy - 3} ${p.cx - dx * 0.75},${p.cy} ${p.cx - 6},${p.cy}`} fill="none" stroke={INK} strokeWidth={1.3} />
    <path d={`M${p.cx},${p.cy} l-8,-3.5 l0,7 z`} fill={INK} />
  </g>
)
const dotShape = (r: number, color: string) => (p: any) => <circle cx={p.cx} cy={p.cy} r={r} fill={color} />
const markerShape = (p: any) => <circle cx={p.cx} cy={p.cy} r={3.3} fill="#fff" stroke="#333" strokeWidth={1} />

// ---------- page furniture ----------
function Heading({ letter, lt, ll, tt, tl, lines }: { letter: string; lt: number; ll: number; tt: number; tl: number; lines: string[] }) {
  return (
    <>
      <div style={{ position: 'absolute', left: ll, top: lt, fontSize: 28, lineHeight: '28px', fontWeight: 700 }}>{letter}</div>
      <div style={{ position: 'absolute', left: tl, top: tt, fontSize: 15.5, lineHeight: '14.5px', fontWeight: 700, fontStyle: 'italic', whiteSpace: 'pre' }}>
        {lines.join('\n')}
      </div>
    </>
  )
}
const rot: React.CSSProperties = { position: 'absolute', transform: 'translate(-50%,-50%) rotate(-90deg)', whiteSpace: 'nowrap', fontWeight: 700, lineHeight: 1 }
const ProbLabel = ({ x, y }: { x: number; y: number }) => <div style={{ ...rot, left: x, top: y, fontSize: 13.5 }}>Relative probability</div>
const sup: React.CSSProperties = { fontSize: '0.66em', verticalAlign: '0.55em' }
const RatioLabel = ({ x, y }: { x: number; y: number }) => (
  <div style={{ ...rot, left: x, top: y, fontSize: 16.5 }}>
    <span style={sup}>206</span>Pb/<span style={sup}>207</span>Pb
  </div>
)

// ---------- probability-density panel ----------
function DensityPanel(p: any) {
  const box: Box = p.box
  const ML = 20, MR = 14, MT = 6, XH = 30
  const tickStyle = { fontSize: 14.5, fill: '#1a1a1a', fontFamily: FONT }
  return (
    <div style={{ position: 'absolute', left: box.l - ML, top: box.t - MT }}>
      <ComposedChart width={box.w + ML + MR} height={box.h + MT + XH} margin={{ top: MT, right: MR, bottom: 0, left: ML }}>
        <XAxis type="number" dataKey="x" domain={p.xDomain} allowDataOverflow ticks={p.xTicks} interval={0} tickLine={false} axisLine={false} tickSize={0} tickMargin={p.tickMargin} height={XH} tick={tickStyle} />
        <YAxis yAxisId="d" type="number" dataKey="d" domain={[0, 1]} allowDataOverflow hide />
        <YAxis yAxisId="g" type="number" dataKey="r" domain={p.rankDomain} allowDataOverflow hide />
        {p.grid.map((v: number) => (
          <ReferenceLine key={v} yAxisId="d" x={v} stroke={p.gridColor} strokeWidth={p.gridWidth} />
        ))}
        {p.band && <ReferenceArea yAxisId="d" x1={p.band[0]} x2={p.band[1]} y1={0} y2={1} fill="#000" fillOpacity={p.bandOpacity} stroke="none" />}
        <Area yAxisId="d" data={pdpRows(p.pdp)} dataKey="d" type="monotone" stroke="#000" strokeWidth={p.curveWidth} fill="#000" fillOpacity={0.22} dot={false} activeDot={false} isAnimationActive={false} />
        <Scatter yAxisId="g" data={grainRows(p.grains)} shape={dotShape(p.dotR, p.dotColor)} isAnimationActive={false}>
          <ErrorBar dataKey="e" direction="x" width={4} stroke={p.barColor} strokeWidth={p.barWidth} isAnimationActive={false} />
        </Scatter>
        <Scatter yAxisId="d" data={labelRows(p.peaks)} shape={textShape(12, 'middle', '#333')} isAnimationActive={false} />
        <Scatter yAxisId="d" data={labelRows([p.sg])} shape={textShape(11.5, 'start', '#333', p.sgLh)} isAnimationActive={false} />
        <Scatter yAxisId="d" data={labelRows([p.arrow])} shape={leftArrow(p.arrowLen)} isAnimationActive={false} />
        {p.faunal && <Scatter yAxisId="d" data={labelRows([p.faunal])} shape={textShape(12.5, 'start', '#222', p.faunalLh)} isAnimationActive={false} />}
        {p.hook && <Scatter yAxisId="d" data={labelRows([p.hook])} shape={hookArrow(p.hookDx, p.hookDy)} isAnimationActive={false} />}
        <ReferenceArea yAxisId="d" x1={p.xDomain[0]} x2={p.xDomain[1]} y1={0} y2={1} fill="none" stroke="#000" strokeWidth={2.2} />
      </ComposedChart>
    </div>
  )
}

// ---------- concordia panel ----------
function ConcordiaPanel(p: any) {
  const box: Box = p.box
  const YW = 75, MR = 14, MT = 6, XH = 30
  const tickStyle = { fontSize: 15, fill: '#1a1a1a', fontFamily: FONT }
  return (
    <div style={{ position: 'absolute', left: box.l - YW, top: box.t - MT }}>
      <ComposedChart width={box.w + YW + MR} height={box.h + MT + XH} margin={{ top: MT, right: MR, bottom: 0, left: 0 }}>
        <XAxis type="number" dataKey="x" domain={p.xDomain} allowDataOverflow ticks={p.xTicks} interval={0} tickLine={false} axisLine={false} tickSize={0} tickMargin={p.tickMargin} height={XH} tick={tickStyle} />
        <YAxis type="number" dataKey="y" domain={p.yDomain} allowDataOverflow ticks={p.yTicks} interval={0} width={YW} tickLine={false} axisLine={false} tickSize={0} tickMargin={6} tick={tickStyle} tickFormatter={(v: number) => v.toFixed(p.digits)} />
        <Line data={concRows} dataKey="y" type="monotone" stroke={INK} strokeWidth={p.concWidth} dot={false} activeDot={false} isAnimationActive={false} />
        <Line data={ellipseRows(p.ellipses)} dataKey="y" type="linear" stroke="#1a1a1a" strokeWidth={p.ellWidth} dot={false} activeDot={false} connectNulls={false} isAnimationActive={false} />
        <Scatter data={markerRows(p.markers)} shape={markerShape} isAnimationActive={false} />
        <Scatter data={labelRows(p.ages)} shape={textShape(p.ageSize, 'middle', '#1a1a1a', 14, p.ageRotate, true)} isAnimationActive={false} />
        <Scatter data={labelRows([p.note])} shape={textShape(13, p.noteAnchor, '#222')} isAnimationActive={false} />
        <ReferenceArea x1={p.xDomain[0]} x2={p.xDomain[1]} y1={p.yDomain[0]} y2={p.yDomain[1]} fill="none" stroke="#000" strokeWidth={2.4} />
      </ComposedChart>
    </div>
  )
}

export default function App() {
  return (
    <div style={{ position: 'absolute', left: 0, top: 0, width: 842, height: 1586, background: '#fff', overflow: 'hidden', fontFamily: FONT, color: INK }}>
      {/* A */}
      <Heading letter="A" lt={8} ll={11} tt={8.1} tl={43} lines={TITLE_A} />
      <ProbLabel x={29} y={142} />
      <DensityPanel box={{ l: 43, t: 44, w: 349, h: 252 }} xDomain={[109, 311]} xTicks={AGE_TICKS} tickMargin={10.7}
        grid={AGE_GRID} gridColor="#8f8f8f" gridWidth={1.6} pdp={PDP_A} curveWidth={1.8}
        grains={GRAINS_A} rankDomain={[-43, 107.4]} barColor="#6e6e6e" barWidth={0.8} dotR={1.1} dotColor="#222"
        band={BAND_A} bandOpacity={0.16} peaks={PEAKS_A} sg={SG_A} sgLh={13.3} arrow={ARROW_A} arrowLen={29}
        faunal={FAUNAL_A} faunalLh={15.5} hook={HOOK_A} hookDx={24} hookDy={17} />
      <RatioLabel x={437} y={162} />
      <ConcordiaPanel box={{ l: 493, t: 47, w: 342, h: 255 }} xDomain={[15, 50]} yDomain={[0.04, 0.1043]} xTicks={XT_A} yTicks={YT_A} digits={2}
        tickMargin={8.7} ellipses={ELL_A} ellWidth={1} concWidth={1.1} markers={MARK_A} ages={AGES_A} ageSize={14} ageRotate={0}
        note={NOTE_A} noteAnchor="end" />

      {/* B */}
      <Heading letter="B" lt={333} ll={13} tt={335.1} tl={43} lines={TITLE_B} />
      <ProbLabel x={28} y={472} />
      <DensityPanel box={{ l: 43, t: 377, w: 349, h: 235 }} xDomain={[109, 311]} xTicks={AGE_TICKS} tickMargin={5.7}
        grid={AGE_GRID} gridColor="#d9d9d9" gridWidth={1} pdp={PDP_B} curveWidth={2}
        grains={GRAINS_B} rankDomain={[-0.9, 37.2]} barColor="#222" barWidth={1} dotR={1.8} dotColor="#000"
        peaks={PEAKS_B} sg={SG_B} sgLh={12.7} arrow={ARROW_B} arrowLen={29} />
      <RatioLabel x={432} y={479} />
      <ConcordiaPanel box={{ l: 500, t: 375, w: 339, h: 237 }} xDomain={[21.8, 51.8]} yDomain={[0.04, 0.062]} xTicks={XT_B} yTicks={YT_BC} digits={3}
        tickMargin={5.7} ellipses={ELL_B} ellWidth={1} concWidth={1.1} markers={MARK_B} ages={AGES_B} ageSize={14} ageRotate={0}
        note={NOTE_B} noteAnchor="end" />

      {/* C */}
      <Heading letter="C" lt={643} ll={12.7} tt={650.1} tl={42.7} lines={TITLE_C} />
      <ProbLabel x={28} y={785} />
      <DensityPanel box={{ l: 43, t: 684, w: 349, h: 212 }} xDomain={[169.6, 254]} xTicks={C_TICKS} tickMargin={6.7}
        grid={C_GRID} gridColor="#8f8f8f" gridWidth={1.6} pdp={PDP_C} curveWidth={2.6}
        grains={GRAINS_C} rankDomain={[-1.8, 49.4]} barColor="#222" barWidth={1} dotR={0.9} dotColor="#666"
        peaks={PEAKS_C} sg={SG_C} sgLh={13.3} arrow={ARROW_C} arrowLen={25} />
      <RatioLabel x={433} y={775} />
      <ConcordiaPanel box={{ l: 503, t: 687, w: 330, h: 229 }} xDomain={[25, 37]} yDomain={[0.04, 0.0645]} xTicks={XT_C} yTicks={YT_BC} digits={3}
        tickMargin={6.7} ellipses={ELL_C} ellWidth={0.85} concWidth={2.2} markers={MARK_C} ages={AGES_C} ageSize={11} ageRotate={-90}
        note={NOTE_C} noteAnchor="end" />

      {/* D */}
      <Heading letter="D" lt={929.6} ll={12.7} tt={934.1} tl={43} lines={TITLE_D} />
      <ProbLabel x={30} y={1087} />
      <DensityPanel box={{ l: 43, t: 969, w: 348, h: 254 }} xDomain={[109, 311]} xTicks={AGE_TICKS} tickMargin={8.7}
        grid={AGE_GRID} gridColor="#d6d6d6" gridWidth={1} pdp={PDP_D} curveWidth={2}
        grains={GRAINS_D} rankDomain={[-5.9, 142.9]} barColor="#6a6a6a" barWidth={0.9} dotR={1.1} dotColor="#222"
        band={BAND_D} bandOpacity={0.25} peaks={PEAKS_D} sg={SG_D} sgLh={13.3} arrow={ARROW_D} arrowLen={28}
        faunal={FAUNAL_D} faunalLh={15.7} hook={HOOK_D} hookDx={33} hookDy={17} />
      <RatioLabel x={432} y={1078} />
      <ConcordiaPanel box={{ l: 488, t: 973, w: 348, h: 239 }} xDomain={[15, 55.3]} yDomain={[0.04, 0.0864]} xTicks={XT_DE} yTicks={YT_DE} digits={2}
        tickMargin={9.7} ellipses={ELL_D} ellWidth={1} concWidth={1.1} markers={MARK_D} ages={AGES_D} ageSize={14} ageRotate={0}
        note={NOTE_D} noteAnchor="start" />

      {/* E */}
      <Heading letter="E" lt={1259.6} ll={11.7} tt={1259.1} tl={40} lines={TITLE_E} />
      <ProbLabel x={27} y={1411} />
      <DensityPanel box={{ l: 40, t: 1292, w: 347, h: 254 }} xDomain={[108.5, 309]} xTicks={AGE_TICKS} tickMargin={10.7}
        grid={AGE_GRID} gridColor="#d6d6d6" gridWidth={1} pdp={PDP_E} curveWidth={2}
        grains={GRAINS_E} rankDomain={[-2.7, 153.7]} barColor="#707070" barWidth={0.9} dotR={1.4} dotColor="#000"
        peaks={PEAKS_E} sg={SG_E} sgLh={12.7} arrow={ARROW_E} arrowLen={30} />
      <RatioLabel x={432} y={1395} />
      <ConcordiaPanel box={{ l: 488, t: 1293, w: 348, h: 237 }} xDomain={[15, 55.3]} yDomain={[0.04, 0.0865]} xTicks={XT_DE} yTicks={YT_DE} digits={2}
        tickMargin={6.7} ellipses={ELL_E} ellWidth={1} concWidth={1.1} markers={MARK_E} ages={AGES_E} ageSize={14} ageRotate={0}
        note={NOTE_E} noteAnchor="start" />

      <div style={{ position: 'absolute', left: 208, top: 1578, transform: 'translate(-50%,-50%)', fontWeight: 700, fontSize: 16.5, whiteSpace: 'nowrap', lineHeight: 1 }}>Age (Ma)</div>
      <div style={{ position: 'absolute', left: 652, top: 1578, transform: 'translate(-50%,-50%)', fontWeight: 700, fontSize: 16.5, whiteSpace: 'nowrap', lineHeight: 1 }}>
        <span style={sup}>238</span>U/<span style={sup}>206</span>Pb
      </div>
    </div>
  )
}
